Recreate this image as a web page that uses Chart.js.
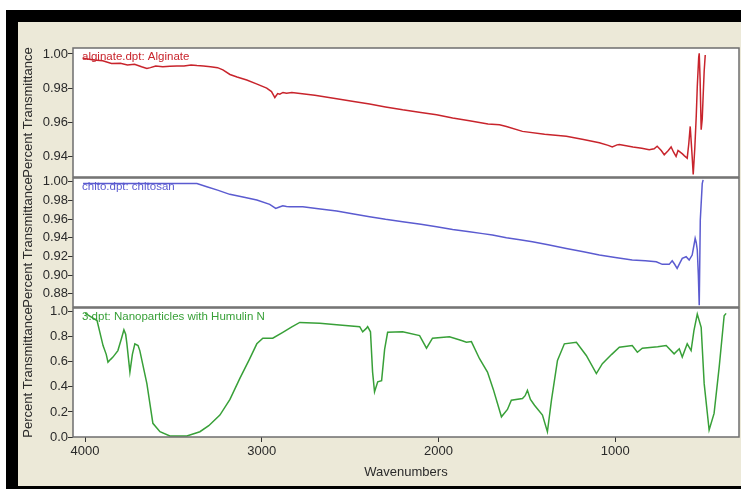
<!DOCTYPE html>
<html>
<head>
<meta charset="utf-8">
<script src="https://cdn.jsdelivr.net/npm/chart.js@4.4.0/dist/chart.umd.min.js"></script>
<style>
  body { margin: 0; width: 741px; height: 489px; overflow: hidden; position: relative; background: #fff; }
  #frame { position: absolute; left: 6px; top: 10px; width: 735px; height: 479px; background: #000; }
  #window { position: absolute; left: 18px; top: 22px; width: 723px; height: 464px; background: #ece9d8; }
  canvas { position: absolute; left: 18px; }
</style>
</head>
<body>
<div id="frame"></div>
<div id="window"></div>
<canvas id="alginateChart" width="723" height="156" style="top:22px"></canvas>
<canvas id="chitosanChart" width="723" height="136" style="top:172px"></canvas>
<canvas id="nanoChart" width="723" height="184" style="top:302px"></canvas>
<script>
// tick labels
const xTicks = [1000, 2000, 3000, 4000];
const alginateTicks = [0.94, 0.96, 0.98, 1.00];
const chitosanTicks = [0.88, 0.90, 0.92, 0.94, 0.96, 0.98, 1.00];
const nanoTicks = [0.0, 0.2, 0.4, 0.6, 0.8, 1.0];

// alginate.dpt (wavenumber, transmittance)
const alginateWn = [4011, 3950, 3900, 3850, 3800, 3760, 3720, 3680, 3650, 3630, 3600, 3560, 3520, 3480, 3440, 3400, 3367, 3330, 3290, 3250, 3220, 3180, 3140, 3085, 3030, 2972, 2945, 2926, 2910, 2898, 2880, 2860, 2830, 2700, 2576, 2480, 2390, 2300, 2203, 2100, 2011, 1920, 1825, 1720, 1655, 1616, 1525, 1400, 1277, 1180, 1090, 1040, 1017, 990, 977, 900, 850, 808, 780, 763, 740, 723, 700, 684, 670, 656, 645, 638, 620, 610, 593, 584, 576, 570, 565, 559, 550, 542, 536, 528, 525, 520, 514, 508, 503, 497, 491];
const alginateT = [0.9975, 0.9965, 0.996, 0.9945, 0.9946, 0.9935, 0.994, 0.9925, 0.9915, 0.992, 0.993, 0.9925, 0.9928, 0.993, 0.993, 0.9935, 0.9932, 0.993, 0.9925, 0.992, 0.9907, 0.988, 0.9865, 0.9848, 0.9825, 0.980, 0.978, 0.9745, 0.9768, 0.9765, 0.9775, 0.977, 0.9774, 0.9758, 0.9738, 0.9722, 0.9707, 0.969, 0.9673, 0.9658, 0.9644, 0.9625, 0.9609, 0.959, 0.9586, 0.9576, 0.9547, 0.953, 0.9518, 0.950, 0.948, 0.9465, 0.9456, 0.9468, 0.947, 0.9455, 0.9448, 0.944, 0.9445, 0.946, 0.9435, 0.941, 0.9435, 0.9456, 0.9425, 0.940, 0.9435, 0.943, 0.9415, 0.9405, 0.939, 0.9476, 0.9576, 0.948, 0.940, 0.9295, 0.945, 0.9634, 0.981, 0.998, 1.0004, 0.985, 0.9557, 0.962, 0.975, 0.99, 0.9994];

// chito.dpt
const chitosanWn = [4011, 3700, 3500, 3367, 3311, 3250, 3181, 3100, 3028, 2955, 2921, 2900, 2881, 2860, 2842, 2768, 2680, 2576, 2480, 2390, 2300, 2203, 2100, 2011, 1920, 1825, 1750, 1695, 1616, 1540, 1469, 1380, 1277, 1180, 1090, 1000, 904, 830, 768, 734, 695, 678, 665, 650, 635, 621, 599, 582, 565, 552, 548, 542, 536, 530, 525, 519, 508, 503];
const chitosanT = [0.998, 0.998, 0.998, 0.998, 0.9947, 0.991, 0.9865, 0.9835, 0.9804, 0.9758, 0.9715, 0.973, 0.9743, 0.9735, 0.9733, 0.9733, 0.971, 0.9686, 0.9655, 0.9626, 0.9598, 0.9572, 0.9545, 0.9519, 0.949, 0.9465, 0.9445, 0.943, 0.940, 0.938, 0.9358, 0.9325, 0.9287, 0.925, 0.9216, 0.919, 0.9162, 0.9155, 0.9144, 0.9116, 0.9116, 0.9155, 0.912, 0.9073, 0.913, 0.918, 0.9198, 0.9162, 0.9216, 0.935, 0.9394, 0.935, 0.927, 0.90, 0.868, 0.959, 0.998, 1.002];

// 3.dpt
const nanoWn = [4000, 3955, 3932, 3898, 3880, 3870, 3855, 3842, 3814, 3795, 3780, 3770, 3763, 3746, 3732, 3718, 3700, 3690, 3650, 3616, 3576, 3520, 3424, 3350, 3300, 3237, 3180, 3124, 3070, 3028, 2994, 2938, 2881, 2830, 2785, 2672, 2560, 2446, 2429, 2410, 2401, 2385, 2373, 2362, 2344, 2322, 2305, 2288, 2203, 2107, 2068, 2034, 1938, 1870, 1842, 1814, 1768, 1723, 1690, 1644, 1610, 1588, 1525, 1510, 1497, 1480, 1457, 1412, 1384, 1361, 1327, 1288, 1220, 1164, 1107, 1073, 1020, 977, 904, 875, 847, 760, 712, 667, 638, 621, 593, 571, 555, 536, 514, 497, 469, 441, 412, 384, 373];
const nanoT = [0.99, 0.95, 0.93, 0.73, 0.66, 0.598, 0.62, 0.638, 0.69, 0.78, 0.855, 0.82, 0.744, 0.518, 0.66, 0.744, 0.73, 0.69, 0.426, 0.109, 0.042, 0.008, 0.008, 0.042, 0.09, 0.175, 0.30, 0.468, 0.62, 0.744, 0.789, 0.789, 0.836, 0.88, 0.915, 0.908, 0.895, 0.881, 0.84, 0.865, 0.881, 0.84, 0.518, 0.36, 0.44, 0.45, 0.70, 0.836, 0.84, 0.81, 0.709, 0.789, 0.80, 0.77, 0.757, 0.762, 0.625, 0.518, 0.38, 0.161, 0.22, 0.294, 0.307, 0.33, 0.373, 0.30, 0.254, 0.175, 0.042, 0.294, 0.611, 0.744, 0.757, 0.651, 0.506, 0.585, 0.66, 0.717, 0.73, 0.677, 0.709, 0.72, 0.73, 0.664, 0.704, 0.638, 0.744, 0.69, 0.85, 0.982, 0.876, 0.426, 0.056, 0.188, 0.56, 0.968, 0.987];

const axisFont = { family: '"Liberation Sans", Arial, sans-serif', size: 13 };
const textColor = '#2a2a2a';

// white plot area, grey frame and the file label in the corner
const panelPlugin = {
    id: 'panel',
    beforeDraw(chart) {
        const { ctx, chartArea: a } = chart;
        ctx.save();
        ctx.fillStyle = '#fff';
        ctx.fillRect(a.left, a.top, a.right - a.left, a.bottom - a.top);
        ctx.restore();
    },
    afterDraw(chart) {
        const { ctx, chartArea: a } = chart;
        const ds = chart.data.datasets[0];
        ctx.save();
        ctx.strokeStyle = '#6e6e6e';
        ctx.lineWidth = 1.5;
        ctx.strokeRect(a.left, a.top, a.right - a.left, a.bottom - a.top);
        ctx.fillStyle = ds.borderColor;
        ctx.font = '11.5px "Liberation Sans", Arial, sans-serif';
        ctx.textBaseline = 'middle';
        ctx.fillText(ds.label, a.left + 9, a.top + 9);
        ctx.restore();
    }
};

function createChart(canvasId, label, color, wn, t, yMin, yMax, yTicks, decimals, padTop, showX) {
    const ctx = document.getElementById(canvasId).getContext('2d');
    return new Chart(ctx, {
        type: 'line',
        data: {
            datasets: [{
                label,
                data: wn.map((w, i) => ({ x: w, y: t[i] })),
                borderColor: color,
                borderWidth: 1.5,
                pointRadius: 0,
                fill: false,
                tension: 0
            }]
        },
        plugins: [panelPlugin],
        options: {
            responsive: false,
            animation: false,
            devicePixelRatio: 1,
            layout: { padding: { left: 0, right: 2, top: padTop, bottom: showX ? 0 : 1 } },
            plugins: { legend: { display: false }, tooltip: { enabled: false } },
            scales: {
                x: {
                    type: 'linear',
                    reverse: true,
                    min: 300,
                    max: 4068,
                    display: showX,
                    afterBuildTicks: s => { s.ticks = xTicks.map(v => ({ value: v })); },
                    afterFit: s => {
                        if (showX) s.height = 49;
                        s.paddingLeft = 0;
                        s.paddingRight = 0;
                    },
                    grid: { drawOnChartArea: false, tickLength: 5, color: '#333' },
                    border: { display: false },
                    ticks: { color: textColor, font: axisFont, padding: 2, maxRotation: 0, autoSkip: false, callback: v => String(v) },
                    title: { display: true, text: 'Wavenumbers', color: textColor, font: axisFont, padding: { top: 0, bottom: 6 } }
                },
                y: {
                    type: 'linear',
                    min: yMin,
                    max: yMax,
                    afterBuildTicks: s => { s.ticks = yTicks.map(v => ({ value: v })); },
                    afterFit: s => {
                        s.width = 55;
                        s.paddingTop = 0;
                        s.paddingBottom = 0;
                    },
                    grid: { drawOnChartArea: false, tickLength: 5, color: '#333' },
                    border: { display: false },
                    ticks: { color: textColor, font: axisFont, padding: 0, autoSkip: false, callback: v => v.toFixed(decimals) },
                    title: { display: true, text: 'Percent Transmittance', color: textColor, font: axisFont, padding: { top: 3, bottom: 0 } }
                }
            }
        }
    });
}

createChart('alginateChart', 'alginate.dpt: Alginate', '#c8242c', alginateWn, alginateT, 0.928, 1.0035, alginateTicks, 2, 26, false);
createChart('chitosanChart', 'chito.dpt: chitosan', '#5b5bd0', chitosanWn, chitosanT, 0.866, 1.004, chitosanTicks, 2, 6, false);
createChart('nanoChart', '3.dpt: Nanoparticles with Humulin N', '#38a038', nanoWn, nanoT, 0, 1.03, nanoTicks, 1, 6, true);
</script>
</body>
</html>
